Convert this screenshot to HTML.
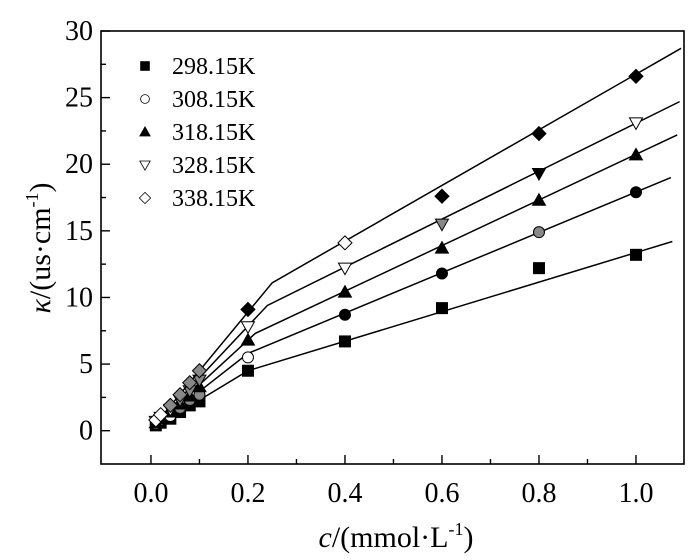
<!DOCTYPE html>
<html><head><meta charset="utf-8"><style>
html,body{margin:0;padding:0;background:#fff;}
svg{display:block;font-family:"Liberation Serif",serif;}
</style></head><body>
<svg id="chart" width="700" height="560" viewBox="0 0 700 560" xmlns="http://www.w3.org/2000/svg"></svg>
<script>
const concentrations=[0.01,0.02,0.04,0.06,0.08,0.1,0.2,0.4,0.6,0.8,1.0];
const seriesNames=["298.15K","308.15K","318.15K","328.15K","338.15K"];
const markerShapes=["square","circle","up","down","diamond"];
const legendFills=["k","w","k","w","w"];
const kappa298=[0.4,0.6,0.9,1.4,1.9,2.2,4.5,6.7,9.2,12.2,13.2];
const kappa308=[0.5,0.8,1.1,1.7,2.3,2.7,5.5,8.7,11.8,14.9,17.9];
const kappa318=[0.6,0.9,1.4,2.0,2.6,3.3,6.8,10.4,13.7,17.3,20.7];
const kappa328=[0.7,1.0,1.6,2.3,3.0,3.8,7.8,12.2,15.5,19.3,23.1];
const kappa338=[0.8,1.2,1.9,2.7,3.6,4.5,9.1,14.1,17.6,22.3,26.6];
const fill298=["k","k","k","k","k","k","k","k","k","k","k"];
const fill308=["g","g","w","g","g","g","w","k","k","g","k"];
const fill318=["k","k","k","k","k","k","k","k","k","k","k"];
const fill328=["w","w","w","g","g","g","w","w","g","k","w"];
const fill338=["w","w","g","g","g","g","k","w","k","k","k"];
const fitC298=[0.0,0.2,1.075]; const fitK298=[0.1,4.5,14.2];
const fitC308=[0.0,0.2,1.072]; const fitK308=[0.1,5.8,19.0];
const fitC318=[0.0,0.215,1.085]; const fitK318=[0.1,7.3,22.2];
const fitC328=[0.0,0.24,1.09]; const fitK328=[0.1,9.4,24.7];
const fitC338=[0.0,0.25,1.093]; const fitK338=[0.1,11.1,28.7];
const xTicks=[0,0.2,0.4,0.6,0.8,1.0];
const xTickLabels=["0.0","0.2","0.4","0.6","0.8","1.0"];
const yTicks=[0,5,10,15,20,25,30];
const yTickLabels=["0","5","10","15","20","25","30"];

const L=101,R=684,T=31,B=464;
const xMin=-0.103,xMax=1.099,yMin=-2.5,yMax=30;
function X(v){return L+(v-xMin)/(xMax-xMin)*(R-L);}
function Y(v){return B-(v-yMin)/(yMax-yMin)*(B-T);}
const svg=document.getElementById('chart');
const NS="http://www.w3.org/2000/svg";
function mk(tag,attrs,parent){const e=document.createElementNS(NS,tag);for(const k in attrs)e.setAttribute(k,attrs[k]);(parent||svg).appendChild(e);return e;}

const frame=mk('rect',{x:L,y:T,width:R-L,height:B-T,fill:'none',stroke:'#000','stroke-width':1.6});



const xg=mk('g',{});


for(let v=0;v<=1.0001;v+=0.1){
  const major=Math.round(v*10)%2===0;
  mk('line',{x1:X(v),x2:X(v),y1:B,y2:B-(major?9:5),stroke:'#000','stroke-width':1.4},xg);
}
xTicks.forEach((v,i)=>{
  const t=mk('text',{x:X(v),y:502,'text-anchor':'middle','font-size':28},xg);
  
  
  t.textContent=xTickLabels[i];
});
const yg=mk('g',{});


for(let v=0;v<=30;v+=2.5){
  const major=v%5===0;
  mk('line',{x1:L,x2:L+(major?9:5),y1:Y(v),y2:Y(v),stroke:'#000','stroke-width':1.4},yg);
}
yTicks.forEach((v,i)=>{
  const t=mk('text',{x:93,y:Y(v)+9,'text-anchor':'end','font-size':28},yg);
  
  
  t.textContent=yTickLabels[i];
});

const xt=mk('text',{x:396,y:547,'text-anchor':'middle','font-size':30});


xt.innerHTML='<tspan font-style="italic">c</tspan>/(mmol·L<tspan dy="-12" font-size="18">-1</tspan><tspan dy="12">)</tspan>';
const yt=mk('text',{x:0,y:0,'text-anchor':'middle','font-size':30,transform:'translate(50,248) rotate(-90)'});


yt.innerHTML='<tspan font-style="italic">κ</tspan>/(us·cm<tspan dy="-12" font-size="18">-1</tspan><tspan dy="12">)</tspan>';

function marker(shape,cx,cy,fill,parent){
  const f=fill==='k'?'#000':fill==='g'?'#888':'#fff';
  const s=5.5;let e;
  if(shape==='square')e=mk('rect',{x:cx-s,y:cy-s,width:2*s,height:2*s},parent);
  else if(shape==='circle')e=mk('circle',{cx:cx,cy:cy,r:s},parent);
  else if(shape==='up')e=mk('polygon',{points:`${cx},${cy-6.5} ${cx+6.5},${cy+5} ${cx-6.5},${cy+5}`},parent);
  else if(shape==='down')e=mk('polygon',{points:`${cx},${cy+6.5} ${cx+6.5},${cy-5} ${cx-6.5},${cy-5}`},parent);
  else e=mk('polygon',{points:`${cx},${cy-7} ${cx+7},${cy} ${cx},${cy+7} ${cx-7},${cy}`},parent);
  e.setAttribute('fill',f);e.setAttribute('stroke','#000');e.setAttribute('stroke-width',1);
  return e;
}
const allK=[kappa298,kappa308,kappa318,kappa328,kappa338];
const allF=[fill298,fill308,fill318,fill328,fill338];
const allFC=[fitC298,fitC308,fitC318,fitC328,fitC338];
const allFK=[fitK298,fitK308,fitK318,fitK328,fitK338];
allK.forEach((ks,si)=>{
  const g=mk('g',{});
  
  
  const pts=allFC[si].map((c,i)=>X(c)+','+Y(allFK[si][i])).join(' ');
  const pl=mk('polyline',{points:pts,fill:'none',stroke:'#000','stroke-width':1.5},g);
  
  
  ks.forEach((k,i)=>{
    const m=marker(markerShapes[si],X(concentrations[i]),Y(k),allF[si][i],g);
    
    
  });
});
const lg=mk('g',{});


seriesNames.forEach((n,i)=>{
  const y=66+i*33;
  const m=marker(markerShapes[i],145,y,legendFills[i],lg);
  m.setAttribute('transform',`translate(145,${y}) scale(0.8) translate(-145,${-y})`);
  const t=mk('text',{x:172,y:y+8,'font-size':24},lg);
  
  
  t.textContent=n;
});
</script>
</body></html>
